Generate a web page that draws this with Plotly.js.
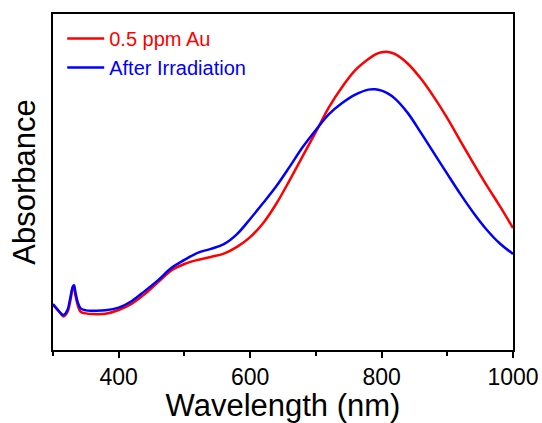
<!DOCTYPE html>
<html>
<head>
<meta charset="utf-8">
<script src="https://cdn.plot.ly/plotly-3.0.1.min.js"></script>
<style>html,body{margin:0;padding:0;background:#fff;}#chart{width:542px;height:423px;}</style>
</head>
<body>
<div id="chart"></div>
<script>
const wavelength = [300,305,310,316,322,326,330,332,334,338,342,350,360,380,400,420,440,460,480,500,520,540,560,580,600,620,640,660,680,700,720,740,760,780,790,800,810,820,840,860,880,900,920,940,960,980,1000];
const auAbs = [0.134,0.124,0.113,0.100,0.113,0.143,0.182,0.188,0.164,0.131,0.114,0.109,0.107,0.108,0.119,0.138,0.167,0.202,0.237,0.256,0.268,0.277,0.287,0.307,0.336,0.378,0.436,0.505,0.577,0.649,0.723,0.783,0.833,0.866,0.879,0.886,0.887,0.881,0.852,0.807,0.752,0.690,0.622,0.555,0.490,0.428,0.363];
const irrAbs = [0.137,0.125,0.113,0.104,0.119,0.152,0.188,0.193,0.173,0.140,0.124,0.118,0.117,0.118,0.126,0.146,0.176,0.208,0.244,0.268,0.289,0.301,0.315,0.345,0.390,0.438,0.488,0.545,0.604,0.655,0.702,0.735,0.760,0.775,0.776,0.772,0.763,0.749,0.705,0.646,0.585,0.524,0.464,0.408,0.358,0.317,0.286];
const seriesNames = ['0.5 ppm Au','After Irradiation'];
const xTickVals = [400,600,800,1000];
const xMinorVals = [300,500,700,900];

const traces = [
  {x: wavelength, y: auAbs, type:'scatter', mode:'lines', line:{color:'#ff0000', width:2.5, shape:'spline', smoothing:1},
   name:'<span style="color:#ff0000">'+seriesNames[0]+'</span>'},
  {x: wavelength, y: irrAbs, type:'scatter', mode:'lines', line:{color:'#0000ff', width:2.5, shape:'spline', smoothing:1},
   name:'<span style="color:#0000ff">'+seriesNames[1]+'</span>'}
];

const layout = {
  width:542, height:423,
  margin:{l:53, r:29, t:14, b:73, pad:0},
  paper_bgcolor:'#fff', plot_bgcolor:'#fff',
  font:{family:'Liberation Sans, Arial, sans-serif', color:'#000'},
  showlegend:true,
  legend:{x:0.02, y:0.985, xanchor:'left', yanchor:'top', bgcolor:'rgba(0,0,0,0)', borderwidth:0, itemwidth:37,
          font:{size:20, family:'Liberation Sans, Arial, sans-serif'}, tracegroupgap:0},
  xaxis:{range:[300,1000], tickvals:xTickVals, ticktext:xTickVals.map(String), ticks:'outside', ticklen:6, tickwidth:2, tickcolor:'#000',
         minor:{tickvals:xMinorVals, ticks:'outside', ticklen:4, tickwidth:2, tickcolor:'#000'},
         ticklabelstandoff:-1,
         showgrid:false, zeroline:false, showline:true, linecolor:'#000', linewidth:2, mirror:true,
         tickfont:{size:23}, title:{text:'Wavelength (nm)', font:{size:31}, standoff:5}},
  yaxis:{range:[0,1], showticklabels:false, ticks:'', showgrid:false, zeroline:false, showline:true, linecolor:'#000', linewidth:2, mirror:true,
         title:{text:'Absorbance', font:{size:31}, standoff:6}}
};
Plotly.newPlot('chart', traces, layout, {displayModeBar:false, staticPlot:true});
</script>
</body>
</html>
